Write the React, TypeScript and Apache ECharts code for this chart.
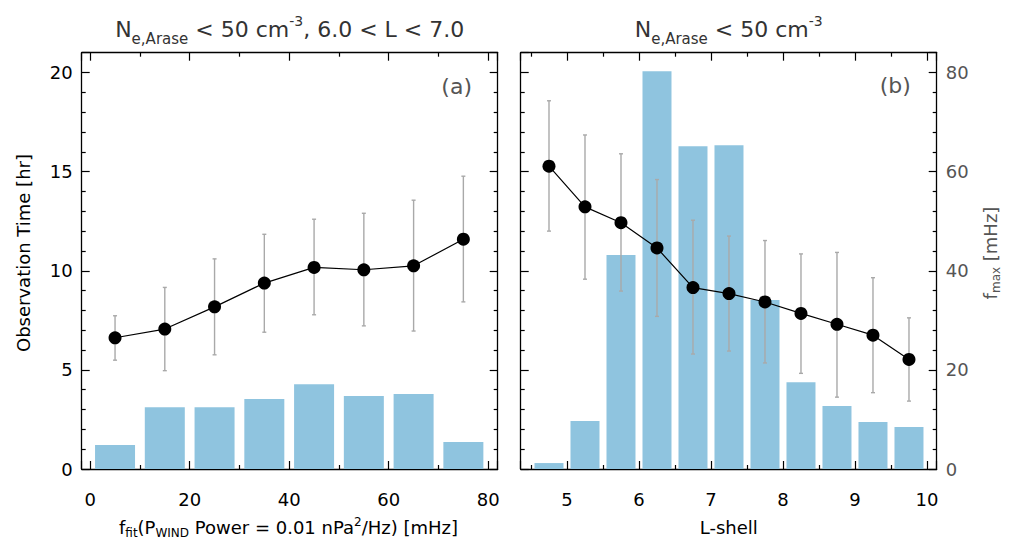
import React, { useEffect, useRef } from "react";
import * as echarts from "echarts";

// ---------- data ----------
const fFitCenters = [5, 15, 25, 35, 45, 55, 65, 75];
const obsTimeA = [1.21, 3.12, 3.12, 3.53, 4.28, 3.68, 3.78, 1.36];
const meanA = [6.62, 7.06, 8.18, 9.38, 10.17, 10.05, 10.25, 11.59];
const lowA = [5.49, 4.96, 5.76, 6.9, 7.78, 7.22, 6.96, 8.43];
const highA = [7.73, 9.16, 10.6, 11.84, 12.6, 12.9, 13.56, 14.77];

const lShellCenters = [4.75, 5.25, 5.75, 6.25, 6.75, 7.25, 7.75, 8.25, 8.75, 9.25, 9.75];
const obsTimeB = [0.3, 2.42, 10.79, 20.06, 16.28, 16.33, 8.52, 4.38, 3.18, 2.37, 2.12];
const fmaxB = [61.1, 52.9, 49.7, 44.6, 36.6, 35.4, 33.7, 31.4, 29.2, 27.0, 22.1];
const fmaxLowB = [48.0, 38.3, 35.9, 30.8, 23.2, 23.8, 21.4, 19.3, 14.5, 15.4, 13.7];
const fmaxHighB = [74.3, 67.4, 63.6, 58.4, 50.2, 47.0, 46.1, 43.4, 43.7, 38.6, 30.5];

const obsTimeTicks = [0, 5, 10, 15, 20];
const fFitTicks = [0, 20, 40, 60, 80];
const lShellTicks = [5, 6, 7, 8, 9, 10];
const fmaxTicks = [0, 20, 40, 60, 80];

// ---------- styles ----------
const FONT = "DejaVu Sans";
const BAR_COLOR = "#8fc4df";
const ERR_COLOR = "#a9a9a9";
const TITLE_COLOR = "#333333";
const GRAY_TEXT = "#555555";

const PANEL_TOP = 52.7;
const PANEL_SIZE_W = 416;
const PANEL_SIZE_H = 416.3;
const LEFT_A = 81.7;
const LEFT_B = 520.7;

function labelFormatter(list: number[]) {
  return (v: number) => (list.some((t) => Math.abs(t - v) < 1e-6) ? String(v) : "");
}

function makeAxis(
  gridIndex: number,
  position: string,
  min: number,
  max: number,
  step: number,
  minorSplit: number,
  labels: number[] | null,
  labelColor: string,
  margin: number
) {
  return {
    type: "value",
    gridIndex,
    position,
    min,
    max,
    minInterval: step,
    maxInterval: step,
    splitNumber: Math.max(1, Math.round((max - min) / step)),
    axisLine: { show: true, onZero: false, lineStyle: { color: "#000", width: 1.3 } },
    axisTick: { show: true, inside: true, length: 8, lineStyle: { color: "#000", width: 1.2 } },
    minorTick: { show: true, splitNumber: minorSplit, length: 4, lineStyle: { color: "#000", width: 1.2 } },
    splitLine: { show: false },
    minorSplitLine: { show: false },
    axisLabel: labels
      ? {
          show: true,
          fontSize: 18,
          fontFamily: FONT,
          color: labelColor,
          margin,
          formatter: labelFormatter(labels),
        }
      : { show: false },
  };
}

function errorBarRenderer(capHalf: number) {
  return (params: any, api: any) => {
    const x = api.value(0);
    const lo = api.coord([x, api.value(1)]);
    const hi = api.coord([x, api.value(2)]);
    const style = { stroke: ERR_COLOR, lineWidth: 1.4 };
    return {
      type: "group",
      children: [
        { type: "line", shape: { x1: lo[0], y1: lo[1], x2: hi[0], y2: hi[1] }, style },
        { type: "line", shape: { x1: lo[0] - capHalf, y1: lo[1], x2: lo[0] + capHalf, y2: lo[1] }, style },
        { type: "line", shape: { x1: hi[0] - capHalf, y1: hi[1], x2: hi[0] + capHalf, y2: hi[1] }, style },
      ],
    };
  };
}

function richSet(main: number, sub: number, sup: number, lh: number, color: string, supPad: number) {
  return {
    m: { fontFamily: FONT, fontSize: main, lineHeight: lh, verticalAlign: "middle", fill: color, color },
    s: { fontFamily: FONT, fontSize: sub, verticalAlign: "bottom", fill: color, color },
    p: { fontFamily: FONT, fontSize: sup, verticalAlign: "top", padding: [supPad, 0, 0, 0], fill: color, color },
  };
}

function textEl(
  x: number,
  y: number,
  text: string,
  rich: any,
  fontSize: number,
  color: string,
  vAlign: string,
  rotation = 0
) {
  return {
    type: "text",
    x,
    y,
    rotation,
    silent: true,
    style: {
      text,
      rich,
      fontFamily: FONT,
      fontSize,
      fill: color,
      align: "center",
      textAlign: "center",
      verticalAlign: vAlign,
      textVerticalAlign: vAlign,
    },
  };
}

function buildOption() {
  const titleRich = richSet(22, 15, 14, 34, TITLE_COLOR, 2);
  const nameRich = richSet(18, 12, 12, 23, "#000", 0);
  const nameRichGray = richSet(18, 12, 12, 23, GRAY_TEXT, 0);

  return {
    animation: false,
    backgroundColor: "#ffffff",
    textStyle: { fontFamily: FONT },
    grid: [
      { left: LEFT_A, top: PANEL_TOP, width: PANEL_SIZE_W, height: PANEL_SIZE_H, containLabel: false },
      { left: LEFT_B, top: PANEL_TOP, width: PANEL_SIZE_W, height: PANEL_SIZE_H, containLabel: false },
    ],
    xAxis: [
      makeAxis(0, "bottom", -1.7, 81.9, 20, 2, fFitTicks, "#000", 21),
      makeAxis(0, "top", -1.7, 81.9, 20, 2, null, "#000", 0),
      makeAxis(1, "bottom", 4.357, 10.135, 1, 2, lShellTicks, "#000", 21),
      makeAxis(1, "top", 4.357, 10.135, 1, 2, null, "#000", 0),
    ],
    yAxis: [
      makeAxis(0, "left", 0, 21, 5, 5, obsTimeTicks, "#000", 9),
      makeAxis(0, "right", 0, 21, 5, 5, null, "#000", 0),
      makeAxis(1, "left", 0, 21, 5, 5, null, "#000", 0),
      makeAxis(1, "right", 0, 84, 20, 5, fmaxTicks, GRAY_TEXT, 9),
    ],
    series: [
      {
        type: "bar",
        xAxisIndex: 0,
        yAxisIndex: 0,
        barWidth: 40,
        z: 1,
        itemStyle: { color: BAR_COLOR },
        data: fFitCenters.map((x, i) => [x, obsTimeA[i]]),
      },
      {
        type: "custom",
        xAxisIndex: 0,
        yAxisIndex: 0,
        z: 2,
        renderItem: errorBarRenderer(2),
        encode: { x: 0, y: [1, 2] },
        data: fFitCenters.map((x, i) => [x, lowA[i], highA[i]]),
      },
      {
        type: "line",
        xAxisIndex: 0,
        yAxisIndex: 0,
        z: 3,
        symbol: "circle",
        symbolSize: 13,
        itemStyle: { color: "#000" },
        lineStyle: { color: "#000", width: 1.2 },
        data: fFitCenters.map((x, i) => [x, meanA[i]]),
      },
      {
        type: "bar",
        xAxisIndex: 2,
        yAxisIndex: 2,
        barWidth: 29,
        z: 1,
        itemStyle: { color: BAR_COLOR },
        data: lShellCenters.map((x, i) => [x, obsTimeB[i]]),
      },
      {
        type: "custom",
        xAxisIndex: 2,
        yAxisIndex: 3,
        z: 2,
        renderItem: errorBarRenderer(2),
        encode: { x: 0, y: [1, 2] },
        data: lShellCenters.map((x, i) => [x, fmaxLowB[i], fmaxHighB[i]]),
      },
      {
        type: "line",
        xAxisIndex: 2,
        yAxisIndex: 3,
        z: 3,
        symbol: "circle",
        symbolSize: 13,
        itemStyle: { color: "#000" },
        lineStyle: { color: "#000", width: 1.2 },
        data: lShellCenters.map((x, i) => [x, fmaxB[i]]),
      },
    ],
    graphic: [
      textEl(289.7, 12.1, "{m|N}{s|e,Arase}{m| < 50 cm}{p|-3}{m|, 6.0 < L < 7.0}", titleRich, 22, TITLE_COLOR, "top"),
      textEl(728.7, 12.1, "{m|N}{s|e,Arase}{m| < 50 cm}{p|-3}", titleRich, 22, TITLE_COLOR, "top"),
      textEl(456.7, 86, "(a)", null, 22, GRAY_TEXT, "middle"),
      textEl(895.3, 85, "(b)", null, 22, GRAY_TEXT, "middle"),
      textEl(
        288.5,
        516.3,
        "{m|f}{s|fit}{m|(P}{s|WIND}{m| Power = 0.01 nPa}{p|2}{m|/Hz) [mHz]}",
        nameRich,
        18,
        "#000",
        "top"
      ),
      textEl(728.7, 516.3, "{m|L-shell}", nameRich, 18, "#000", "top"),
      textEl(23, 253, "{m|Observation Time [hr]}", nameRich, 18, "#000", "middle", Math.PI / 2),
      textEl(990, 253, "{m|f}{s|max}{m| [mHz]}", nameRichGray, 18, GRAY_TEXT, "middle", Math.PI / 2),
    ],
  };
}

export default function App() {
  const ref = useRef<HTMLDivElement>(null);
  useEffect(() => {
    if (!ref.current) return;
    const chart = echarts.init(ref.current, null, { renderer: "svg" });
    chart.setOption(buildOption() as any);
    return () => chart.dispose();
  }, []);
  return (
    <div
      ref={ref}
      style={{ position: "fixed", left: 0, top: 0, width: 1014, height: 545, background: "#fff" }}
    />
  );
}
